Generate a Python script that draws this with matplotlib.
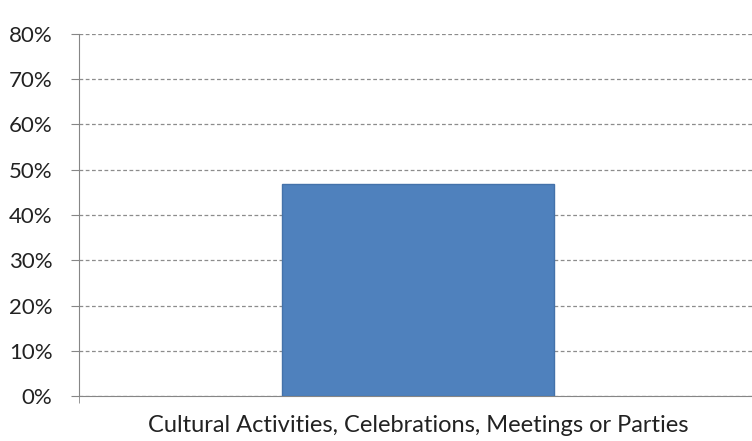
import matplotlib.pyplot as plt
from matplotlib.ticker import PercentFormatter

categories = ['Cultural Activities, Celebrations, Meetings or Parties']
values = [46.9]
y_ticks = [0, 10, 20, 30, 40, 50, 60, 70, 80]

plt.rcParams['font.family'] = ['Lato', 'DejaVu Sans']

fig = plt.figure(figsize=(7.52, 4.41), dpi=100)
ax = fig.add_axes([0.105, 0.102, 0.902, 0.821])

ax.bar(range(len(categories)), values, width=0.4, color='#4f81bd',
       edgecolor='#4472aa', linewidth=1, zorder=3)

ax.set_xlim(-0.5, 0.5)
ax.set_ylim(0, 80)
ax.set_yticks(y_ticks)
ax.yaxis.set_major_formatter(PercentFormatter(decimals=0))
ax.set_xticks(range(len(categories)))
ax.set_xticklabels(categories)
# category boundary tick at the left end of the x axis
ax.set_xticks([-0.5, 0.5], minor=True)

ax.grid(axis='y', color='#8c8c8c', linestyle=(0, (3, 2)), linewidth=0.9, zorder=0)
for side in ['top', 'right']:
    ax.spines[side].set_visible(False)
for side in ['left', 'bottom']:
    ax.spines[side].set_color('#868686')

ax.tick_params(axis='y', length=6, color='#868686', labelsize=16, labelcolor='#222222', pad=13)
ax.tick_params(axis='x', which='major', length=0, labelsize=17, labelcolor='#222222', pad=14)
ax.tick_params(axis='x', which='minor', length=5, color='#868686')

fig.savefig('out.png', dpi=100)
